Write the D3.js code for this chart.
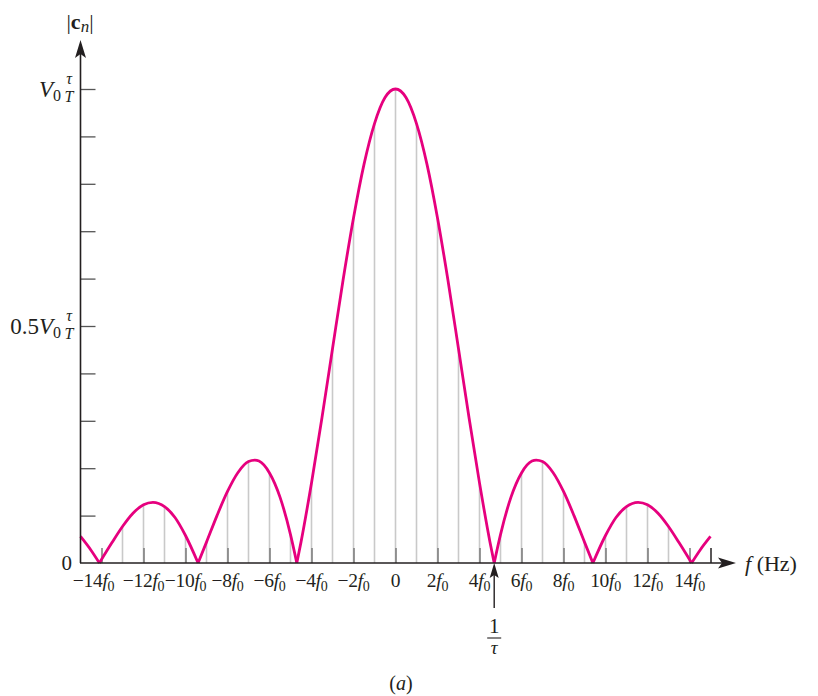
<!DOCTYPE html>
<html>
<head>
<meta charset="utf-8">
<script src="https://cdn.jsdelivr.net/npm/d3@7"></script>
<style>
  html, body { margin: 0; padding: 0; background: #fff; }
  svg { display: block; }
  text { font-family: "Liberation Serif", "Times New Roman", "DejaVu Serif", serif; fill: #231f20; }
</style>
</head>
<body>
<svg id="chart" width="818" height="696"></svg>
<script>
// ---- data (frequency in units of f0, magnitude in units of V0·τ/T) ----
const harmonicN = [-14,-13,-12,-11,-10,-9,-8,-7,-6,-5,-4,-3,-2,-1,0,1,2,3,4,5,6,7,8,9,10,11,12,13,14];
const harmonicMag = [0.007,0.077,0.123,0.119,0.058,0.044,0.151,0.214,0.190,0.060,0.169,0.452,0.728,0.927,1.000,
                     0.927,0.728,0.452,0.169,0.060,0.190,0.214,0.151,0.044,0.058,0.119,0.123,0.077,0.007];
const envelopeF = [-15,-14.5,-14.1,-13.5,-13,-12.5,-12,-11.55,-11,-10.5,-10,-9.4,-9,-8.5,-8,-7.5,-7,-6.7,-6.5,-6,-5.5,-5,-4.7,
                   -4.5,-4,-3.5,-3,-2.5,-2,-1.5,-1,-0.5,0,0.5,1,1.5,2,2.5,3,3.5,4,4.5,
                   4.7,5,5.5,6,6.5,6.7,7,7.5,8,8.5,9,9.4,10,10.5,11,11.55,12,12.5,13,13.5,14.1,14.5,15];
const envelopeMag = [0.056,0.027,0,0.043,0.077,0.105,0.123,0.128,0.119,0.096,0.058,0,0.044,0.100,0.151,0.191,0.214,0.217,0.215,0.190,0.139,0.060,0,
                     0.044,0.169,0.307,0.452,0.596,0.728,0.841,0.927,0.982,1.000,0.982,0.927,0.841,0.728,0.596,0.452,0.307,0.169,0.044,
                     0,0.060,0.139,0.190,0.215,0.217,0.214,0.191,0.151,0.100,0.044,0,0.058,0.096,0.119,0.128,0.123,0.105,0.077,0.043,0,0.027,0.056];
const xLabelN = [-14,-12,-10,-8,-6,-4,-2,0,2,4,6,8,10,12,14];
const yTickValues = [0.1,0.2,0.3,0.4,0.5,0.6,0.7,0.8,0.9,1.0];
const invTau = 4.7; // 1/τ in units of f0

// ---- layout ----
const svg = d3.select("#chart");
const x = d3.scaleLinear().domain([-15, 15]).range([80.5, 710.5]);
const y = d3.scaleLinear().domain([0, 1]).range([563, 89]);
const ink = "#231f20";
const pink = "#e6007e";

// spectral lines (light gray, up to the envelope)
svg.append("g").selectAll("line").data(harmonicN).join("line")
  .attr("x1", d => x(d)).attr("x2", d => x(d))
  .attr("y1", y(0)).attr("y2", (d, i) => y(harmonicMag[i]))
  .attr("stroke", "#c9c9c9").attr("stroke-width", 1.6);

// dark short ticks at even harmonics (and end tick)
const tickAxis = d3.axisTop(x).tickValues(xLabelN.concat([15])).tickSize(15).tickFormat("");
const tg = svg.append("g").attr("transform", `translate(0,${y(0)})`).call(tickAxis);
tg.select(".domain").remove();
tg.selectAll(".tick line").attr("stroke", d => d === 15 ? ink : "#7a7a7a").attr("stroke-width", 1.5);

// envelope split into lobes at the zeros
const pts = envelopeF.map((f, i) => [f, envelopeMag[i]]);
const lobes = [];
let cur = [];
pts.forEach((p, i) => {
  cur.push(p);
  if (p[1] === 0 && i > 0 && i < pts.length - 1) { lobes.push(cur); cur = [p]; }
});
lobes.push(cur);
const lineGen = d3.line().x(d => x(d[0])).y(d => y(d[1])).curve(d3.curveMonotoneX);
svg.append("g").selectAll("path").data(lobes).join("path")
  .attr("d", lineGen).attr("fill", "none").attr("stroke", pink)
  .attr("stroke-width", 2.8).attr("stroke-linejoin", "round");

// y axis ticks
const yAxis = d3.axisRight(y).tickValues(yTickValues).tickSize(15).tickFormat("");
const yg = svg.append("g").attr("transform", "translate(80.5,0)").call(yAxis);
yg.select(".domain").remove();
yg.selectAll(".tick line").attr("stroke", "#555").attr("stroke-width", 1.3);

// axis lines + arrows
svg.append("line").attr("x1", 80.5).attr("x2", 80.5).attr("y1", y(0)).attr("y2", 50)
  .attr("stroke", ink).attr("stroke-width", 1.6);
svg.append("path").attr("d", "M80.5,40 L86,58 L80.5,54 L75,58 Z").attr("fill", ink);
svg.append("line").attr("x1", 80).attr("x2", 726).attr("y1", y(0)).attr("y2", y(0))
  .attr("stroke", ink).attr("stroke-width", 1.6);
svg.append("path").attr("d", `M736,${y(0)} L718,${y(0)-5.5} L722,${y(0)} L718,${y(0)+5.5} Z`).attr("fill", ink);

// 1/τ marker arrow
const xt = x(invTau);
svg.append("line").attr("x1", xt).attr("x2", xt).attr("y1", 570).attr("y2", 608)
  .attr("stroke", ink).attr("stroke-width", 1.4);
svg.append("path").attr("d", `M${xt},563 L${xt+4.5},578 L${xt},575 L${xt-4.5},578 Z`).attr("fill", ink);
svg.append("text").attr("x", xt).attr("y", 633).attr("text-anchor", "middle")
  .attr("font-size", 21).text("1");
svg.append("line").attr("x1", xt - 7).attr("x2", xt + 7).attr("y1", 638).attr("y2", 638)
  .attr("stroke", ink).attr("stroke-width", 1.1);
svg.append("text").attr("x", xt).attr("y", 654).attr("text-anchor", "middle")
  .attr("font-size", 19).attr("font-style", "italic").text("τ");

// x tick labels (the −14 label sits a little left, as in the original)
const xl = svg.append("g").selectAll("text").data(xLabelN).join("text")
  .attr("x", d => x(d) + (d === -14 ? -8 : 0)).attr("y", 587)
  .attr("text-anchor", "middle").attr("font-size", 19.5).attr("letter-spacing", -0.3);
xl.each(function(d) {
  const t = d3.select(this);
  if (d === 0) { t.text("0"); return; }
  t.append("tspan").text((d < 0 ? "\u2212" : "") + Math.abs(d));
  t.append("tspan").attr("font-style", "italic").text("f");
  t.append("tspan").attr("font-size", 14).attr("dy", 4).text("0");
});

// x axis title
const fx = svg.append("text").attr("x", 745).attr("y", 571).attr("font-size", 22);
fx.append("tspan").attr("font-style", "italic").text("f");
fx.append("tspan").text(" (Hz)");

// y zero label
svg.append("text").attr("x", 72).attr("y", 570).attr("text-anchor", "end").attr("font-size", 21).text("0");

// y labels with τ/T fraction
function yLabel(prefix, value) {
  const yy = y(value);
  const t = svg.append("text").attr("x", 61).attr("y", yy + 8).attr("text-anchor", "end").attr("font-size", 23);
  if (prefix) t.append("tspan").text(prefix);
  t.append("tspan").attr("font-style", "italic").text("V");
  t.append("tspan").attr("font-size", 16).attr("dy", 4).text("0");
  svg.append("text").attr("x", 69).attr("y", yy - 5).attr("text-anchor", "middle")
    .attr("font-size", 16).attr("font-style", "italic").text("τ");
  svg.append("text").attr("x", 69).attr("y", yy + 13).attr("text-anchor", "middle")
    .attr("font-size", 16).attr("font-style", "italic").text("T");
}
yLabel("", 1.0);
yLabel("0.5", 0.5);

// y axis title |c_n|
const yt = svg.append("text").attr("x", 80).attr("y", 29).attr("text-anchor", "middle").attr("font-size", 22);
yt.append("tspan").text("|");
yt.append("tspan").attr("font-weight", "bold").text("c");
yt.append("tspan").attr("font-style", "italic").attr("font-size", 17).attr("dy", 3).text("n");
yt.append("tspan").attr("dy", -3).text("|");

// caption
const cap = svg.append("text").attr("x", 401).attr("y", 690).attr("text-anchor", "middle").attr("font-size", 20);
cap.append("tspan").text("(");
cap.append("tspan").attr("font-style", "italic").text("a");
cap.append("tspan").text(")");
</script>
</body>
</html>
